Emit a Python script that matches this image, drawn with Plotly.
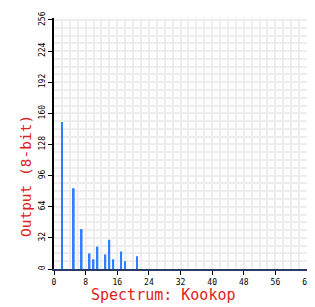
import plotly.graph_objects as go

bins = [2, 5, 7, 9, 10, 11, 13, 14, 15, 17, 18, 21]
output = [151, 83, 41, 16, 10, 23, 15, 30, 10, 18, 8, 13]
x_ticks = [0, 8, 16, 24, 32, 40, 48, 56, 64]
y_ticks = [0, 32, 64, 96, 128, 160, 192, 224, 256]

fig = go.Figure(go.Bar(x=bins, y=output, width=0.45,
                       marker=dict(color="#2f80ff", line=dict(width=0))))

# page body has an 8px margin, so compensate in figure margins
fig.update_layout(
    width=315, height=307,
    margin=dict(l=46, r=16, t=3, b=46),
    plot_bgcolor="white", paper_bgcolor="white",
    showlegend=False,
    font=dict(family="DejaVu Sans Mono", size=8, color="black"),
    annotations=[
        dict(text="Spectrum: Kookop", xref="paper", yref="paper", x=0.433, y=-0.105,
             xanchor="center", yanchor="middle", showarrow=False,
             font=dict(family="DejaVu Sans Mono", size=15, color="#dd2222")),
        dict(text="Output (8-bit)", xref="paper", yref="paper", x=-0.111, y=0.37,
             xanchor="center", yanchor="middle", showarrow=False, textangle=-90,
             font=dict(family="DejaVu Sans Mono", size=14.5, color="#dd2222")),
    ],
)
fig.update_xaxes(range=[0, 64], tickvals=x_ticks, ticktext=[str(v) for v in x_ticks],
                 showgrid=True, gridcolor="#eeeeee", gridwidth=2,
                 minor=dict(dtick=2, showgrid=True, gridcolor="#eeeeee", gridwidth=2),
                 showline=True, linecolor="#2a3a66", linewidth=2,
                 ticks="outside", ticklen=4, tickcolor="black", zeroline=False,
                 ticklabeloverflow="allow", tickfont=dict(size=8))
fig.update_yaxes(range=[0, 258], tickvals=y_ticks, ticktext=[str(v) for v in y_ticks],
                 tickangle=-90,
                 showgrid=True, gridcolor="#eeeeee", gridwidth=2,
                 minor=dict(dtick=8, showgrid=True, gridcolor="#eeeeee", gridwidth=2),
                 showline=True, linecolor="black", linewidth=2,
                 ticks="outside", ticklen=4, tickcolor="black", zeroline=False,
                 ticklabeloverflow="allow", tickfont=dict(size=8))

fig.write_html("out.html")
